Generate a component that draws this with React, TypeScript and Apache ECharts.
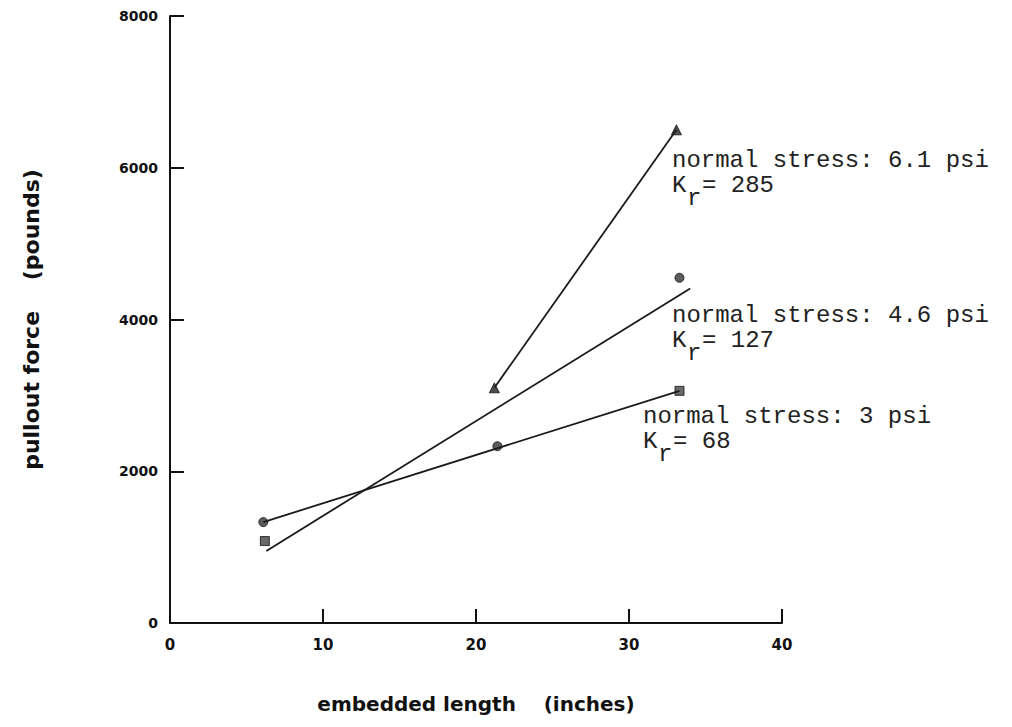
import React, { useEffect, useRef } from "react";
import * as echarts from "echarts";

// ---- data ----
const xTickValues = [0, 10, 20, 30, 40];
const yTickValues = [0, 2000, 4000, 6000, 8000];

const trianglePoints = [
  [21.2, 3100],
  [33.1, 6500],
];
const circlePoints = [
  [6.1, 1330],
  [21.4, 2330],
  [33.3, 4550],
];
const squarePoints = [
  [6.2, 1080],
  [33.3, 3060],
];

const fit61 = [
  [21.2, 3100],
  [33.1, 6500],
];
const fit46 = [
  [6.3, 950],
  [34.0, 4410],
];
const fit30 = [
  [6.1, 1330],
  [33.3, 3060],
];

const stressLabels = ["normal stress: 6.1 psi", "normal stress: 4.6 psi", "normal stress: 3 psi"];
const krValues = ["285", "127", "68"];

const xAxisTitle = "embedded length    (inches)";
const yAxisTitle = "pullout force    (pounds)";

export default function App() {
  const ref = useRef<HTMLDivElement>(null);

  useEffect(() => {
    if (!ref.current) return;
    const chart = echarts.init(ref.current, null, { renderer: "svg" });

    // layout of the annotation blocks (left x, centre y of first line)
    const annPos = [
      [672, 160],
      [672, 315],
      [643, 416],
    ];
    const mono = '"Liberation Mono", "DejaVu Sans Mono", monospace';
    const fs = 24;
    const pitch = 15;
    const graphics: any[] = [];
    stressLabels.forEach((s, i) => {
      const [x, y] = annPos[i];
      const st = (text: string) => ({
        text,
        fontFamily: mono,
        fontSize: fs,
        fill: "#222",
        textAlign: "left",
        textVerticalAlign: "middle",
        verticalAlign: "middle",
      });
      graphics.push({ type: "text", x, y, style: st(s) });
      graphics.push({ type: "text", x, y: y + 25, style: st("K") });
      graphics.push({ type: "text", x: x + pitch, y: y + 38, style: st("r") });
      graphics.push({ type: "text", x: x + pitch * 2, y: y + 25, style: st("= " + krValues[i]) });
    });

    const lineStyle = { color: "#1a1a1a", width: 1.8 };
    const sansBold = { fontFamily: '"DejaVu Sans", sans-serif', fontWeight: "bold" as const, color: "#111" };

    chart.setOption({
      animation: false,
      backgroundColor: "#fff",
      grid: { left: 170, right: 230, top: 16, bottom: 104, containLabel: false },
      xAxis: {
        type: "value",
        min: xTickValues[0],
        max: xTickValues[xTickValues.length - 1],
        interval: xTickValues[1] - xTickValues[0],
        name: xAxisTitle,
        nameLocation: "middle",
        nameGap: 71,
        nameTextStyle: { ...sansBold, fontSize: 20 },
        axisLine: { show: true, onZero: false, lineStyle: { color: "#111", width: 2 } },
        axisTick: { show: true, inside: true, length: 14, lineStyle: { color: "#111", width: 2 } },
        axisLabel: { ...sansBold, fontSize: 15, margin: 14, formatter: (v: number) => String(v) },
        splitLine: { show: false },
      },
      yAxis: {
        type: "value",
        min: yTickValues[0],
        max: yTickValues[yTickValues.length - 1],
        interval: yTickValues[1] - yTickValues[0],
        name: yAxisTitle,
        nameLocation: "middle",
        nameRotate: 90,
        nameGap: 128,
        nameTextStyle: { ...sansBold, fontSize: 22 },
        axisLine: { show: true, onZero: false, lineStyle: { color: "#111", width: 2 } },
        axisTick: { show: true, inside: true, length: 14, lineStyle: { color: "#111", width: 2 } },
        axisLabel: { ...sansBold, fontSize: 14, margin: 12, formatter: (v: number) => String(v) },
        splitLine: { show: false },
      },
      graphic: graphics,
      series: [
        { type: "line", data: fit61, showSymbol: false, lineStyle, silent: true },
        { type: "line", data: fit46, showSymbol: false, lineStyle, silent: true },
        { type: "line", data: fit30, showSymbol: false, lineStyle, silent: true },
        {
          type: "scatter",
          data: trianglePoints,
          symbol: "triangle",
          symbolSize: 10,
          itemStyle: { color: "#222", borderColor: "#111", borderWidth: 1 },
        },
        {
          type: "scatter",
          data: circlePoints,
          symbol: "circle",
          symbolSize: 9,
          itemStyle: { color: "#333", borderColor: "#111", borderWidth: 1 },
        },
        {
          type: "scatter",
          data: squarePoints,
          symbol: "rect",
          symbolSize: 9,
          itemStyle: { color: "#444", borderColor: "#111", borderWidth: 1 },
        },
      ],
    });

    return () => chart.dispose();
  }, []);

  return (
    <div
      ref={ref}
      style={{ position: "fixed", left: 0, top: 0, width: 1012, height: 727, background: "#fff" }}
    />
  );
}
